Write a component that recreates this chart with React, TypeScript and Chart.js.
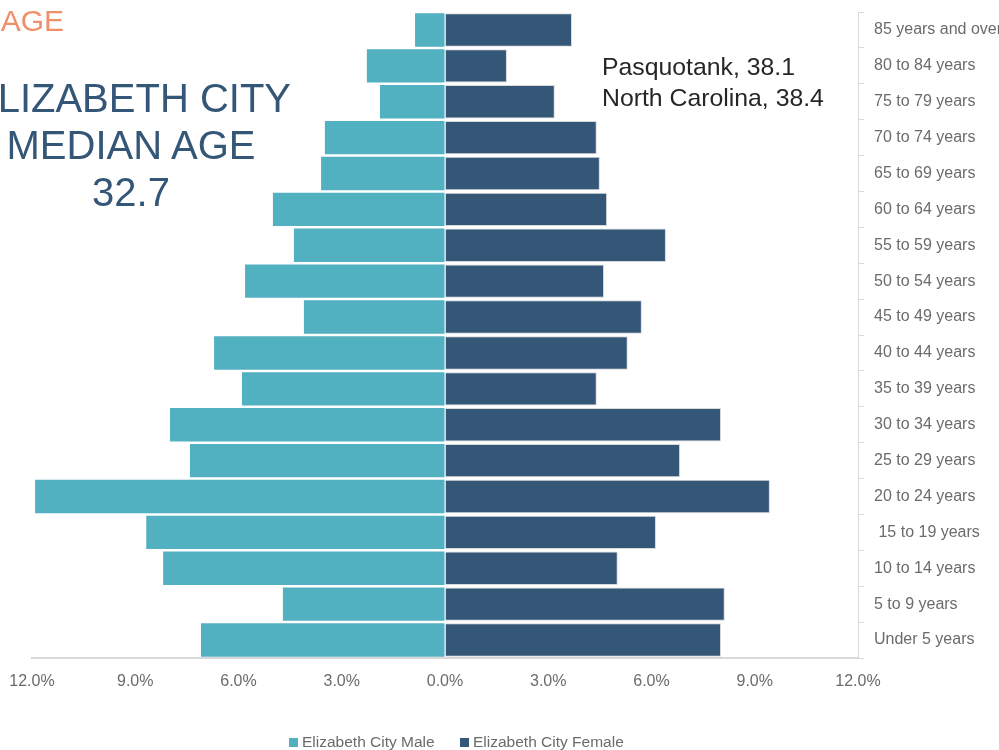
import React, { useEffect, useRef } from "react";
import { Chart, registerables } from "chart.js";

Chart.register(...registerables);

const categories = [
  "85 years and over",
  "80 to 84 years",
  "75 to 79 years",
  "70 to 74 years",
  "65 to 69 years",
  "60 to 64 years",
  "55 to 59 years",
  "50 to 54 years",
  "45 to 49 years",
  "40 to 44 years",
  "35 to 39 years",
  "30 to 34 years",
  "25 to 29 years",
  "20 to 24 years",
  " 15 to 19 years",
  "10 to 14 years",
  "5 to 9 years",
  "Under 5 years",
];

const maleValues = [0.87, 2.27, 1.89, 3.49, 3.6, 5.0, 4.39, 5.81, 4.1, 6.71, 5.9, 7.99, 7.41, 11.91, 8.68, 8.19, 4.71, 7.09];
const femaleValues = [3.69, 1.8, 3.19, 4.41, 4.5, 4.71, 6.42, 4.62, 5.72, 5.31, 4.41, 8.02, 6.83, 9.44, 6.13, 5.02, 8.13, 8.02];

const seriesNames = ["Elizabeth City Male", "Elizabeth City Female"];
const seriesColors = ["#52b1c0", "#345677"];

const FONT = "'Liberation Sans', Arial, Helvetica, sans-serif";
const TICK_COLOR = "#6b6b6b";

export default function App() {
  const ref = useRef<HTMLCanvasElement | null>(null);

  useEffect(() => {
    if (!ref.current) return;
    const chart = new Chart(ref.current, {
      type: "bar",
      data: {
        labels: categories,
        datasets: [
          {
            label: seriesNames[0],
            data: maleValues.map((v) => -v),
            backgroundColor: seriesColors[0],
            borderWidth: 0,
            barPercentage: 0.93,
            categoryPercentage: 1,
          },
          {
            label: seriesNames[1],
            data: femaleValues,
            backgroundColor: seriesColors[1],
            borderColor: "#d9d9d9",
            borderWidth: 1,
            barPercentage: 0.93,
            categoryPercentage: 1,
          },
        ],
      },
      options: {
        indexAxis: "y",
        responsive: false,
        animation: false,
        layout: { padding: { top: 12, left: 32, right: 0, bottom: 0 } },
        plugins: {
          tooltip: { enabled: false },
          legend: { display: false },
        },
        scales: {
          x: {
            stacked: true,
            min: -12,
            max: 12,
            ticks: {
              stepSize: 3,
              color: TICK_COLOR,
              padding: 14,
              font: { family: FONT, size: 16 },
              callback: (v: any) => Math.abs(Number(v)).toFixed(1) + "%",
            },
            grid: { display: true, drawOnChartArea: false, drawTicks: false, color: "#d9d9d9" },
            border: { color: "#d9d9d9", width: 2 },
            afterFit: (axis: any) => {
              axis.height = 92;
              axis.paddingLeft = 0;
              axis.paddingRight = 0;
            },
          },
          y: {
            stacked: true,
            position: "right",
            ticks: {
              color: TICK_COLOR,
              padding: 10,
              font: { family: FONT, size: 16 },
              autoSkip: false,
            },
            grid: { offset: true, drawOnChartArea: false, tickLength: 6, color: "#d9d9d9" },
            border: { color: "#d9d9d9", width: 1 },
            afterFit: (axis: any) => {
              axis.width = 141;
              axis.paddingTop = 0;
              axis.paddingBottom = 0;
            },
          },
        },
      },
    });
    return () => chart.destroy();
  }, []);

  return (
    <div style={{ position: "absolute", left: 0, top: 0, width: 999, height: 750, overflow: "hidden", background: "#fff", fontFamily: FONT }}>
      <canvas ref={ref} width={999} height={750} style={{ position: "absolute", left: 0, top: 0 }} />
      <div style={{ position: "absolute", right: 999 - 64, top: 3, color: "#f0906a", fontSize: 30, whiteSpace: "nowrap", lineHeight: "36px" }}>
        AGE
      </div>
      <div
        style={{
          position: "absolute",
          left: 131 - 200,
          width: 400,
          top: 75,
          textAlign: "center",
          color: "#345677",
          fontSize: 40,
          lineHeight: "47px",
          whiteSpace: "nowrap",
        }}
      >
        ELIZABETH CITY
        <br />
        MEDIAN AGE
        <br />
        32.7
      </div>
      <div
        style={{
          position: "absolute",
          left: 602,
          top: 51,
          color: "#262626",
          fontSize: 24.8,
          lineHeight: "31px",
          whiteSpace: "nowrap",
        }}
      >
        Pasquotank, 38.1
        <br />
        North Carolina, 38.4
      </div>
      {seriesNames.map((name, i) => (
        <div
          key={name}
          style={{
            position: "absolute",
            left: i === 0 ? 289 : 460,
            top: 733,
            height: 18,
            display: "flex",
            alignItems: "center",
            whiteSpace: "nowrap",
            color: TICK_COLOR,
            fontSize: 15.5,
          }}
        >
          <span style={{ display: "inline-block", width: 9, height: 9, background: seriesColors[i], marginRight: 4 }} />
          {name}
        </div>
      ))}
    </div>
  );
}
